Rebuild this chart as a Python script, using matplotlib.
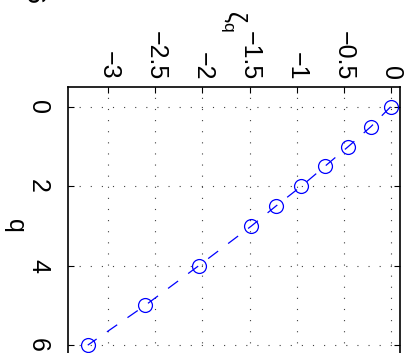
import matplotlib.pyplot as plt

plt.rcParams['font.family'] = ['Liberation Sans', 'DejaVu Sans']
plt.rcParams['mathtext.fontset'] = 'custom'
plt.rcParams['mathtext.rm'] = 'Liberation Sans'
plt.rcParams['mathtext.it'] = 'Liberation Sans'

# data (figure is shown rotated 90 deg clockwise)
q = [0, 0.5, 1, 1.5, 2, 2.5, 3, 4, 5, 6]
zeta = [0, -0.21, -0.45, -0.70, -0.95, -1.22, -1.48, -2.04, -2.61, -3.22]
zeta_ticks = [-3, -2.5, -2, -1.5, -1, -0.5, 0]
zeta_labels = ['\u22123', '\u22122.5', '\u22122', '\u22121.5', '\u22121', '\u22120.5', '0']
q_ticks = [0, 2, 4, 6]

fig = plt.figure(figsize=(4.13, 3.53), dpi=100)
ax = fig.add_axes([68/413, -12/353, 332/413, 278/353])

ax.plot(zeta, q, color='blue', linestyle='--', dashes=(10, 10), linewidth=0.9,
        marker='o', markersize=10, markerfacecolor='none',
        markeredgecolor='blue', markeredgewidth=0.9)

ax.set_xlim(-3.43, 0.1)
ax.set_ylim(6.5, -0.5)

ax.xaxis.tick_top()
ax.xaxis.set_label_position('top')
ax.set_xticks(zeta_ticks)
ax.set_xticklabels(zeta_labels, rotation=-90, ha='center', va='bottom', fontsize=18)
ax.set_yticks(q_ticks)
ax.set_yticklabels([str(v) for v in q_ticks], rotation=-90, ha='right', va='center', fontsize=18)

ax.tick_params(axis='x', direction='in', length=4, width=0.8, pad=5, top=True, bottom=True)
ax.tick_params(axis='y', direction='in', length=4, width=0.8, pad=13, left=True, right=True)

ax.grid(True, color='0.25', linestyle=(0, (1, 9)), linewidth=0.8)

for s in ax.spines.values():
    s.set_linewidth(1.2)

ax.set_xlabel(r'$\zeta_q$', rotation=-90, fontsize=18, labelpad=6)
ax.set_ylabel('q', rotation=-90, fontsize=18, labelpad=8, va='center')

fig.text(33/413, 1.0 + 3/353, '6', rotation=-90, fontsize=18, ha='center', va='center')

fig.savefig('out.png', dpi=100)
